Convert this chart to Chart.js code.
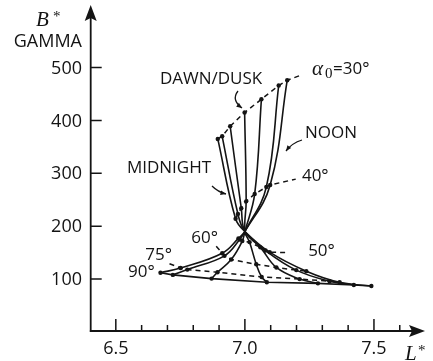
<!DOCTYPE html>
<html>
<head>
<meta charset="utf-8">
<script src="https://cdn.jsdelivr.net/npm/chart.js@4.4.1/dist/chart.umd.min.js"></script>
<style>
  body { margin: 0; background: #fff; }
</style>
</head>
<body>
<canvas id="chart" width="433" height="361"></canvas>
<script>
// equatorial pitch angle (deg) of the dots along every local-time curve
const pitchAngles = [30, 40, 50, 60, 75, 90];

// all local-time curves pass through this point (between 40 and 50 deg)
const nodeL = 7.0;
const nodeB = 190;

// L* / B* (gamma) per magnetic local time, one value per pitch angle
const lstar00 = [6.895, 6.964, 7.096, 7.238, 7.367, 7.490];   // midnight
const bstar00 = [365, 214, 151, 115, 94, 87];
const lstar02 = [6.912, 6.973, 7.080, 7.199, 7.328, 7.422];
const bstar02 = [370, 223, 154, 117, 96, 89];
const lstar04 = [6.943, 6.986, 7.060, 7.122, 7.212, 7.283];
const bstar04 = [389, 234, 160, 122, 100, 92];
const lstar06 = [6.999, 7.005, 7.018, 7.044, 7.065, 7.085];   // dawn/dusk
const bstar06 = [415, 247, 170, 128, 104, 94];
const lstar08 = [7.064, 7.038, 6.990, 6.947, 6.894, 6.871];
const bstar08 = [440, 261, 172, 137, 113, 101];
const lstar10 = [7.131, 7.083, 6.980, 6.921, 6.777, 6.721];
const bstar10 = [466, 274, 175, 144, 118, 108];
const lstar12 = [7.164, 7.098, 6.975, 6.912, 6.751, 6.673];   // noon
const bstar12 = [476, 278, 177, 149, 121, 112];

// end of the dashed leader running from each pitch-angle line to its label
const leaderL = [7.219, 7.197, 7.165, 6.889, 6.708, null];
const leaderB = [486, 289, 150, 162, 129, null];

const xTicks = [6.5, 7.0, 7.5];
const xMinorTicks = [6.6, 6.7, 6.8, 6.9, 7.1, 7.2, 7.3, 7.4, 7.6];
const yTicks = [100, 200, 300, 400, 500];

const INK = "#141414";
const SANS = '"Open Sans", "DejaVu Sans", sans-serif';
const SERIF = '"Liberation Serif", "DejaVu Serif", serif';

const curvesL = [lstar00, lstar02, lstar04, lstar06, lstar08, lstar10, lstar12];
const curvesB = [bstar00, bstar02, bstar04, bstar06, bstar08, bstar10, bstar12];

const datasets = [];

// solid local-time curves
curvesL.forEach((ls, k) => {
  const pts = [];
  ls.forEach((l, i) => {
    pts.push({ x: l, y: curvesB[k][i], dot: true });
    if (i === 1) pts.push({ x: nodeL, y: nodeB, dot: false });
  });
  datasets.push({
    data: pts,
    showLine: true,
    borderColor: INK,
    borderWidth: 1.6,
    tension: 0.4,
    pointRadius: c => (c.raw && c.raw.dot ? 2.2 : 0),
    pointBackgroundColor: INK,
    pointBorderWidth: 0,
    clip: false
  });
});

// constant pitch-angle lines (dashed, 90 deg solid)
pitchAngles.forEach((a, j) => {
  const pts = curvesL.map((ls, k) => ({ x: ls[j], y: curvesB[k][j] }));
  if (leaderL[j] !== null) pts.push({ x: leaderL[j], y: leaderB[j] });
  pts.sort((p, q) => p.x - q.x);
  datasets.push({
    data: pts,
    showLine: true,
    borderColor: INK,
    borderWidth: a === 90 ? 1.6 : 1.5,
    borderDash: a === 90 ? [] : [5, 4],
    tension: 0,
    pointRadius: 0,
    clip: false
  });
});

// text annotations, positioned in data units
const notes = [
  { text: "DAWN/DUSK", L: 6.671, B: 478, align: "left" },
  { text: "NOON", L: 7.233, B: 375, align: "left" },
  { text: "MIDNIGHT", L: 6.543, B: 309, align: "left" },
  { text: "40°", L: 7.221, B: 294, align: "left" },
  { text: "50°", L: 7.245, B: 152, align: "left" },
  { text: "60°", L: 6.896, B: 177, align: "right" },
  { text: "75°", L: 6.718, B: 146, align: "right" },
  { text: "90°", L: 6.651, B: 114, align: "right" }
];

function arrowTo(ctx, x0, y0, cx, cy, x1, y1) {
  ctx.beginPath();
  ctx.moveTo(x0, y0);
  ctx.quadraticCurveTo(cx, cy, x1, y1);
  ctx.stroke();
  const ang = Math.atan2(y1 - cy, x1 - cx);
  ctx.beginPath();
  ctx.moveTo(x1, y1);
  ctx.lineTo(x1 - 6 * Math.cos(ang - 0.4), y1 - 6 * Math.sin(ang - 0.4));
  ctx.lineTo(x1 - 6 * Math.cos(ang + 0.4), y1 - 6 * Math.sin(ang + 0.4));
  ctx.closePath();
  ctx.fill();
}

const axesPlugin = {
  id: "axesPlugin",
  afterDraw(chart) {
    const ctx = chart.ctx;
    const xs = chart.scales.x, ys = chart.scales.y;
    const X = v => xs.getPixelForValue(v);
    const Y = v => ys.getPixelForValue(v);
    const ox = chart.chartArea.left + 0.7;
    const oy = chart.chartArea.bottom - 1;

    ctx.save();
    ctx.strokeStyle = INK;
    ctx.fillStyle = INK;
    ctx.lineWidth = 1.8;

    // axis lines + arrowheads
    ctx.beginPath();
    ctx.moveTo(ox, oy);
    ctx.lineTo(ox, 18);
    ctx.moveTo(ox - 1, oy);
    ctx.lineTo(412, oy);
    ctx.stroke();
    ctx.beginPath();
    ctx.moveTo(ox, 5);
    ctx.lineTo(ox - 6, 21);
    ctx.lineTo(ox, 18);
    ctx.lineTo(ox + 6, 21);
    ctx.closePath();
    ctx.fill();
    ctx.beginPath();
    ctx.moveTo(425, oy);
    ctx.lineTo(409, oy - 6);
    ctx.lineTo(412, oy);
    ctx.lineTo(409, oy + 6);
    ctx.closePath();
    ctx.fill();

    // ticks
    ctx.lineWidth = 1.5;
    ctx.beginPath();
    yTicks.forEach(v => { ctx.moveTo(ox, Y(v)); ctx.lineTo(ox + 11, Y(v)); });
    xTicks.forEach(v => { ctx.moveTo(X(v), oy); ctx.lineTo(X(v), oy - 12); });
    xMinorTicks.forEach(v => { ctx.moveTo(X(v), oy); ctx.lineTo(X(v), oy - 6); });
    ctx.stroke();

    // tick labels
    ctx.font = "18px " + SANS;
    ctx.textBaseline = "middle";
    ctx.textAlign = "right";
    yTicks.forEach(v => ctx.fillText(String(v), 82, Y(v) + 1));
    ctx.textAlign = "center";
    xTicks.forEach(v => ctx.fillText(v.toFixed(1), X(v), 349));

    // axis titles
    ctx.textAlign = "right";
    ctx.fillText("GAMMA", 82, 42);
    ctx.textAlign = "left";
    ctx.textBaseline = "alphabetic";
    ctx.font = "italic 21px " + SERIF;
    ctx.fillText("B", 36, 26);
    ctx.fillText("L", 405, 360);
    ctx.font = "15px " + SERIF;
    ctx.fillText("*", 53, 21);
    ctx.fillText("*", 418, 355);

    // alpha0 = 30 label
    ctx.font = "italic 21px " + SERIF;
    ctx.fillText("α", 312, 75);
    ctx.font = "15px " + SERIF;
    ctx.fillText("0", 325, 78);
    ctx.font = "17px " + SANS;
    ctx.textBaseline = "middle";
    ctx.fillText("=30°", 333, 69);

    // other labels
    notes.forEach(n => {
      ctx.textAlign = n.align;
      ctx.fillText(n.text, X(n.L), Y(n.B));
    });

    // pointer arrows
    ctx.lineWidth = 1.3;
    arrowTo(ctx, 238, 91, 231, 100, 242, 108);
    arrowTo(ctx, 302, 140, 292, 143, 286, 151);
    arrowTo(ctx, 212, 186, 218, 192, 226, 194);
    ctx.restore();
  }
};

new Chart(document.getElementById("chart"), {
  type: "scatter",
  data: { datasets },
  options: {
    responsive: false,
    animation: false,
    devicePixelRatio: 1,
    layout: { padding: { left: 90, right: 10, top: 12, bottom: 29 } },
    plugins: { legend: { display: false }, tooltip: { enabled: false } },
    scales: {
      x: { type: "linear", min: 6.4, max: 7.69, display: false },
      y: { type: "linear", min: 0, max: 605, display: false }
    }
  },
  plugins: [axesPlugin]
});
</script>
</body>
</html>
